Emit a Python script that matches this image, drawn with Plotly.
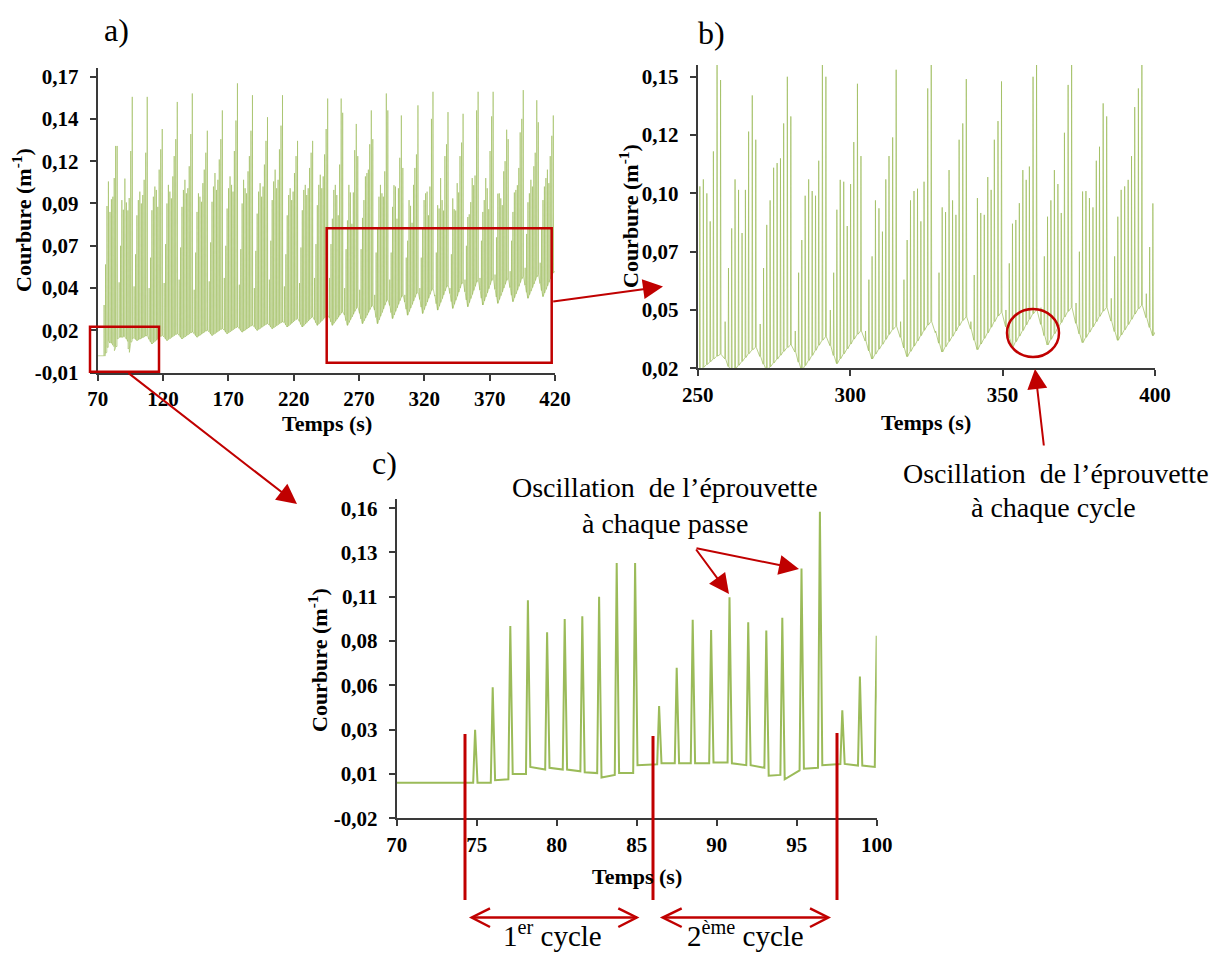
import plotly.graph_objects as go

W, H = 1213, 953
RED = "#C00000"
GREEN = "#9BBB59"
SERIF = "Liberation Serif, Times New Roman, serif"

# ---------------- DATA ----------------
# Detailed passes of the first two cycles (panel c)
c_peak_time = [74.9, 76.0, 77.1, 78.2, 79.4, 80.5, 81.6, 82.65, 83.75, 84.9,
               86.4, 87.5, 88.5, 89.65, 90.8, 91.97, 93.1, 94.1, 95.3, 96.45]
c_peak_val = [0.030, 0.054, 0.0885, 0.103, 0.085, 0.0925, 0.094, 0.105, 0.124, 0.124,
              0.0434, 0.065, 0.092, 0.0863, 0.1047, 0.0906, 0.0859, 0.0932, 0.121, 0.153]
c_floor_in = [0.000, 0.000, 0.002, 0.005, 0.0075, 0.0075, 0.0065, 0.0055, 0.0045, 0.0055,
              0.0105, 0.011, 0.011, 0.011, 0.0115, 0.010, 0.0085, 0.0045, 0.007, 0.0085]
c_floor_out = [0.000, 0.0015, 0.005, 0.009, 0.0085, 0.0075, 0.006, 0.003, 0.0055, 0.010,
               0.011, 0.011, 0.011, 0.0115, 0.011, 0.010, 0.004, 0.002, 0.008, 0.010]
signal_start = (70.0, 0.000)
signal_end = (420.0, 0.050)

cycle_start = [97.45, 108.95, 120.45, 131.95, 143.45, 154.95, 166.5, 178.0, 189.5, 201.0,
               212.5, 224.05, 235.55, 247.05, 258.6, 270.1, 281.6, 293.1, 304.65, 316.15,
               327.65, 339.2, 350.7, 362.2, 373.7, 385.25, 396.75, 408.25]
pass_offset = [0.4, 1.5, 2.55, 3.65, 4.8, 5.95, 7.05, 8.1, 9.3, 10.45]
floor_weight = [0.55, 0.25, 0.0, 0.15, 0.3, 0.45, 0.6, 0.75, 0.9, 1.0]
cycle_trough = [0.009, 0.007, 0.009, 0.010, 0.011, 0.012, 0.013, 0.014, 0.015, 0.016,
                0.017, 0.017, 0.018, 0.018, 0.018, 0.019, 0.019, 0.022, 0.024, 0.025,
                0.027, 0.028, 0.029, 0.030, 0.031, 0.032, 0.034, 0.035]
cycle_hump = [0.012, 0.012, 0.013, 0.014, 0.015, 0.016, 0.017, 0.018, 0.019, 0.020,
              0.022, 0.023, 0.024, 0.026, 0.029, 0.030, 0.0335, 0.036, 0.038, 0.040,
              0.042, 0.044, 0.045, 0.046, 0.046, 0.047, 0.048, 0.049]
cycle_peaks = [
    [0.041, 0.060, 0.083, 0.092, 0.097, 0.090, 0.095, 0.104, 0.120, 0.153],
    [0.040, 0.058, 0.086, 0.094, 0.100, 0.098, 0.088, 0.110, 0.122, 0.134],
    [0.043, 0.066, 0.090, 0.101, 0.097, 0.093, 0.106, 0.118, 0.128, 0.150],
    [0.045, 0.064, 0.088, 0.098, 0.104, 0.096, 0.099, 0.112, 0.131, 0.155],
    [0.039, 0.061, 0.085, 0.096, 0.094, 0.091, 0.102, 0.110, 0.120, 0.133],
    [0.044, 0.067, 0.091, 0.100, 0.108, 0.098, 0.104, 0.116, 0.128, 0.145],
    [0.046, 0.065, 0.087, 0.099, 0.106, 0.101, 0.097, 0.121, 0.139, 0.161],
    [0.042, 0.063, 0.090, 0.104, 0.099, 0.096, 0.109, 0.118, 0.133, 0.154],
    [0.040, 0.062, 0.084, 0.097, 0.102, 0.094, 0.100, 0.113, 0.127, 0.141],
    [0.045, 0.068, 0.092, 0.103, 0.110, 0.099, 0.104, 0.122, 0.136, 0.154],
    [0.041, 0.060, 0.083, 0.095, 0.099, 0.092, 0.097, 0.108, 0.118, 0.127],
    [0.043, 0.064, 0.086, 0.098, 0.101, 0.095, 0.099, 0.111, 0.120, 0.127],
    [0.046, 0.066, 0.089, 0.101, 0.107, 0.099, 0.106, 0.119, 0.134, 0.152],
    [0.046, 0.066, 0.081, 0.098, 0.101, 0.095, 0.083, 0.113, 0.152, 0.1436],
    [0.040, 0.063, 0.080, 0.101, 0.0965, 0.078, 0.0965, 0.1215, 0.137, 0.118],
    [0.039, 0.063, 0.0815, 0.092, 0.106, 0.108, 0.110, 0.125, 0.145, 0.128],
    [0.036, 0.061, 0.075, 0.094, 0.101, 0.096, 0.094, 0.109, 0.155, 0.145],
    [0.045, 0.061, 0.088, 0.1008, 0.100, 0.081, 0.099, 0.117, 0.142, 0.111],
    [0.036, 0.058, 0.068, 0.092, 0.0886, 0.0786, 0.101, 0.111, 0.119, 0.148],
    [0.040, 0.058, 0.075, 0.092, 0.096, 0.097, 0.083, 0.100, 0.140, 0.156],
    [0.036, 0.061, 0.089, 0.087, 0.105, 0.092, 0.0858, 0.118, 0.125, 0.144],
    [0.040, 0.060, 0.093, 0.0866, 0.0858, 0.102, 0.0965, 0.118, 0.126, 0.143],
    [0.045, 0.065, 0.082, 0.0836, 0.0908, 0.105, 0.1008, 0.1065, 0.145, 0.156],
    [0.046, 0.068, 0.085, 0.092, 0.105, 0.099, 0.0866, 0.121, 0.1415, 0.156],
    [0.048, 0.070, 0.0958, 0.096, 0.093, 0.089, 0.109, 0.115, 0.1336, 0.128],
    [0.050, 0.068, 0.085, 0.0965, 0.098, 0.1008, 0.111, 0.132, 0.140, 0.157],
    [0.052, 0.072, 0.0907, 0.096, 0.104, 0.100, 0.112, 0.120, 0.151, 0.138],
    [0.055, 0.075, 0.092, 0.100, 0.105, 0.110, 0.102, 0.118, 0.130, 0.142],
]
rise_time = 0.12
fall_time = 0.15

# Axis ticks
a_xticks = [70, 120, 170, 220, 270, 320, 370, 420]
a_yticks = [-0.01, 0.015, 0.04, 0.065, 0.09, 0.115, 0.14, 0.165]
a_ylabels = ["-0,01", "0,02", "0,04", "0,07", "0,09", "0,12", "0,14", "0,17"]
b_xticks = [250, 300, 350, 400]
b_yticks = [0.02, 0.045, 0.07, 0.095, 0.12, 0.145]
b_ylabels = ["0,02", "0,05", "0,07", "0,10", "0,12", "0,15"]
c_xticks = [70, 75, 80, 85, 90, 95, 100]
c_yticks = [-0.02, 0.005, 0.03, 0.055, 0.08, 0.105, 0.13, 0.155]
c_ylabels = ["-0,02", "0,01", "0,03", "0,06", "0,08", "0,11", "0,13", "0,16"]

# ---------------- build the signal ----------------
t_sig = [signal_start[0]]
v_sig = [signal_start[1]]
for t, pk, fi, fo in zip(c_peak_time, c_peak_val, c_floor_in, c_floor_out):
    t_sig += [t - rise_time, t, t + fall_time]
    v_sig += [fi, pk, fo]
for st, tr, hu, peaks in zip(cycle_start, cycle_trough, cycle_hump, cycle_peaks):
    for off, w, pk in zip(pass_offset, floor_weight, peaks):
        t = st + off
        f = tr + w * (hu - tr)
        t_sig += [t - rise_time, t, t + fall_time]
        v_sig += [f, pk, f]
t_sig.append(signal_end[0])
v_sig.append(signal_end[1])


def px(x):
    return x / W


def py(y):
    return 1 - y / H


fig = go.Figure()
fig.add_trace(go.Scatter(x=t_sig, y=v_sig, mode="lines", xaxis="x", yaxis="y",
                         line=dict(color="rgba(155,187,89,0.6)", width=1), hoverinfo="skip"))
fig.add_trace(go.Scatter(x=t_sig, y=v_sig, mode="lines", xaxis="x2", yaxis="y2",
                         line=dict(color="rgba(155,187,89,0.7)", width=1), hoverinfo="skip"))
fig.add_trace(go.Scatter(x=t_sig, y=v_sig, mode="lines", xaxis="x3", yaxis="y3",
                         line=dict(color=GREEN, width=2), hoverinfo="skip"))

tickfont = dict(family=SERIF, size=21, color="black", weight="bold")
AXCOL = "#3a3a3a"


def xax(domain, rng, ticks, anchor):
    return dict(domain=domain, range=rng, tickvals=ticks, ticktext=[str(t) for t in ticks],
                showline=True, linecolor=AXCOL, linewidth=2, ticks="outside", ticklen=6,
                tickwidth=2, tickcolor=AXCOL, showgrid=False, zeroline=False, anchor=anchor,
                tickfont=tickfont, ticklabelstandoff=0, fixedrange=True, automargin=False)


def yax(domain, rng, ticks, labels, anchor):
    return dict(domain=domain, range=rng, tickvals=ticks, ticktext=labels,
                showline=True, linecolor=AXCOL, linewidth=2, ticks="outside", ticklen=6,
                tickwidth=2, tickcolor=AXCOL, showgrid=False, zeroline=False, anchor=anchor,
                tickfont=tickfont, ticklabelstandoff=7, fixedrange=True, automargin=False)


layout = dict(
    width=W, height=H, autosize=False,
    margin=dict(l=0, r=0, t=0, b=0, pad=0),
    paper_bgcolor="white", plot_bgcolor="white", showlegend=False,
    xaxis=xax([px(97.7), px(555.0)], [70, 420], a_xticks, "y"),
    yaxis=yax([py(372.7), py(68.1)], [-0.01, 0.17], a_yticks, a_ylabels, "x"),
    xaxis2=xax([px(697.7), px(1155.0)], [250, 400], b_xticks, "y2"),
    yaxis2=yax([py(368.3), py(65.1)], [0.02, 0.15], b_yticks, b_ylabels, "x2"),
    xaxis3=xax([px(396.7), px(876.7)], [70, 100], c_xticks, "y3"),
    yaxis3=yax([py(818.3), py(499.3)], [-0.02, 0.16], c_yticks, c_ylabels, "x3"),
)

shapes = []
annotations = []


def rect(x0, y0, x1, y1):
    shapes.append(dict(type="rect", xref="paper", yref="paper", x0=px(x0), x1=px(x1),
                       y0=py(y1), y1=py(y0), line=dict(color=RED, width=2.5)))


def seg(x0, y0, x1, y1, width=2.5):
    shapes.append(dict(type="line", xref="paper", yref="paper", x0=px(x0), x1=px(x1),
                       y0=py(y0), y1=py(y1), line=dict(color=RED, width=width)))


def polyline(pts, width=2.5):
    path = "M " + " L ".join(f"{px(x):.5f},{py(y):.5f}" for x, y in pts)
    shapes.append(dict(type="path", xref="paper", yref="paper", path=path,
                       line=dict(color=RED, width=width)))


def arrow(xt, yt, xh, yh):
    annotations.append(dict(x=px(xh), y=py(yh), xref="paper", yref="paper",
                            ax=xt - xh, ay=yt - yh, axref="pixel", ayref="pixel",
                            text="", showarrow=True, arrowhead=2, arrowsize=2,
                            arrowwidth=2, arrowcolor=RED, standoff=0))


def text(x, y, s, size, bold=False, angle=0, color="black"):
    annotations.append(dict(x=px(x), y=py(y), xref="paper", yref="paper", text=s,
                            showarrow=False, xanchor="center", yanchor="middle",
                            textangle=angle, borderpad=0,
                            font=dict(family=SERIF, size=size, color=color,
                                      weight="bold" if bold else "normal")))


# panel a decorations
rect(90, 326.7, 159, 371.7)
rect(326.7, 228.3, 551.7, 362.7)
arrow(551.7, 301.7, 663, 286.5)
arrow(127, 372, 297, 504)

# panel b decorations
shapes.append(dict(type="circle", xref="paper", yref="paper", x0=px(1007), x1=px(1059),
                   y0=py(357), y1=py(309), line=dict(color=RED, width=2.5)))
arrow(1044, 447, 1035, 369)
text(1056, 473, "Oscillation\u00a0 de l\u2019éprouvette", 28)
text(1053, 508, "à chaque cycle", 28)

# panel c decorations
text(665, 488, "Oscillation\u00a0 de l\u2019éprouvette", 28)
text(665, 523, "à chaque passe", 28)
arrow(695, 548, 729, 594)
arrow(695, 548, 799, 569)
seg(465, 734, 465, 900, 3)
seg(653, 736, 653, 900, 3)
seg(837, 733, 837, 900, 3)
seg(472, 917.5, 637, 917.5)
polyline([(490, 908.3), (471.7, 917.5), (490, 927)])
polyline([(618.3, 908.3), (636.7, 917.5), (618.3, 927)])
seg(663, 917.5, 828, 917.5)
polyline([(681.7, 908.3), (662.7, 917.5), (681.7, 927)])
polyline([(810, 908.3), (828.3, 917.5), (810, 927)])
text(552, 934, "1<sup>er</sup> cycle", 29)
text(745, 934, "2<sup>ème</sup> cycle", 29)

# axis titles
text(327, 424, "Temps (s)", 22, bold=True)
text(926, 423, "Temps (s)", 22, bold=True)
text(637, 876, "Temps (s)", 22, bold=True)
text(22, 220, "Courbure (m<sup>-1</sup>)", 22, bold=True, angle=-90)
text(629, 216, "Courbure (m<sup>-1</sup>)", 22, bold=True, angle=-90)
text(318, 660, "Courbure (m<sup>-1</sup>)", 22, bold=True, angle=-90)

# panel labels
text(116, 30, "a)", 32)
text(711, 33, "b)", 32)
text(384, 463, "c)", 32)

layout["shapes"] = shapes
layout["annotations"] = annotations
fig.update_layout(**layout)

fig.write_html("out.html", config={"displayModeBar": False},
               post_script="document.body.style.margin='0';")
